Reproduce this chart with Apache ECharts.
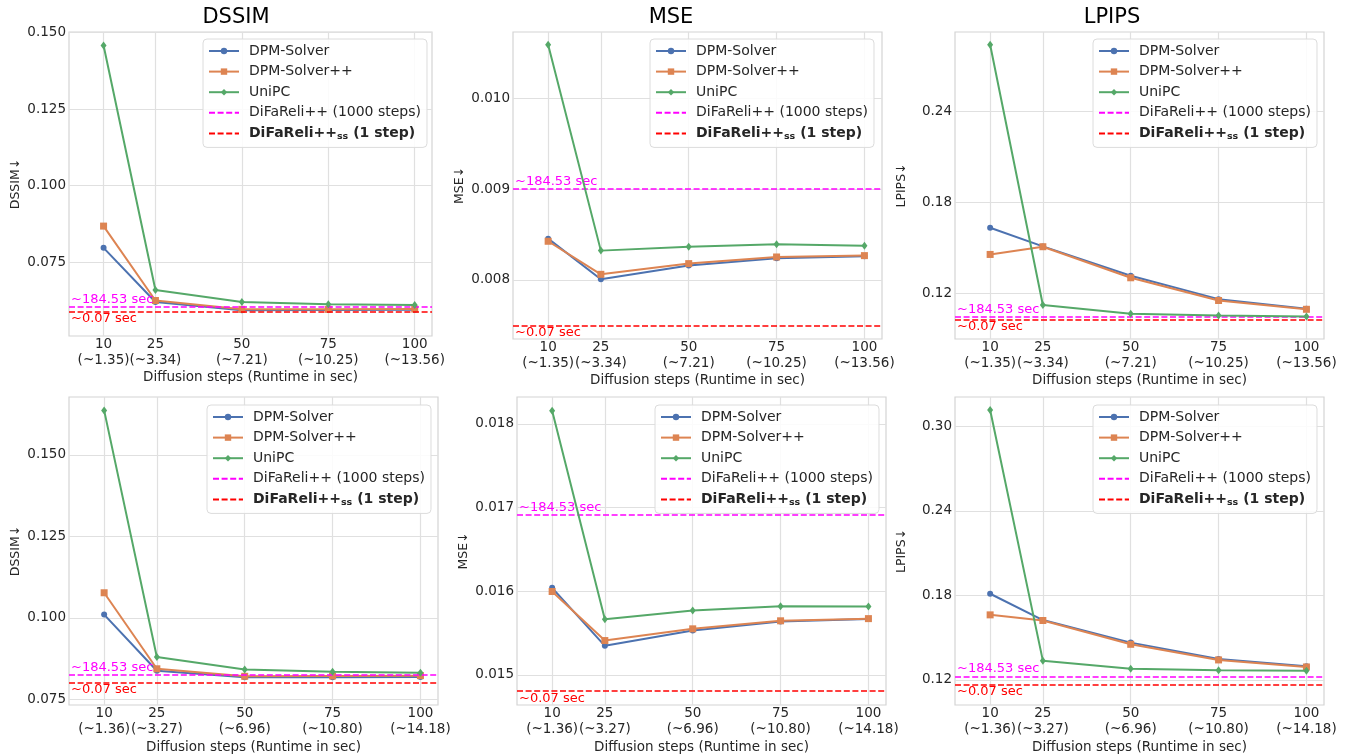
<!DOCTYPE html>
<html><head><meta charset="utf-8">
<script src="https://cdn.jsdelivr.net/npm/echarts@6/dist/echarts.min.js"></script>
<style>html,body{margin:0;padding:0;background:#fff}#c{width:1349px;height:756px}</style>
</head><body><div id="c"></div>
<script>
// ---------------- data ----------------
const steps = [10, 25, 50, 75, 100];
const runtimeTop = ['~1.35', '~3.34', '~7.21', '~10.25', '~13.56'];
const runtimeBottom = ['~1.36', '~3.27', '~6.96', '~10.80', '~14.18'];
const seriesNames = ['DPM-Solver', 'DPM-Solver++', 'UniPC', 'DiFaReli++ (1000 steps)', 'DiFaReli++ss (1 step)'];
const refLabels = ['~184.53 sec', '~0.07 sec'];
const xRange = [0, 105];

const dssimTopDpm   = [0.0797, 0.0620, 0.0593, 0.0594, 0.0595];
const dssimTopDpmpp = [0.0868, 0.0625, 0.0596, 0.0596, 0.0597];
const dssimTopUnipc = [0.1458, 0.0659, 0.0620, 0.0613, 0.0610];
const dssimTopRefs  = [0.0603, 0.0589];
const dssimTopRange = [0.0509, 0.1502];

const mseTopDpm   = [0.008455, 0.008007, 0.008158, 0.008239, 0.008261];
const mseTopDpmpp = [0.008426, 0.008062, 0.008180, 0.008253, 0.008268];
const mseTopUnipc = [0.010590, 0.008323, 0.008367, 0.008393, 0.008378];
const mseTopRefs  = [0.0090, 0.0075];
const mseTopRange = [0.00735, 0.01073];

const lpipsTopDpm   = [0.1631, 0.1508, 0.1314, 0.1160, 0.1097];
const lpipsTopDpmpp = [0.1455, 0.1506, 0.1301, 0.1151, 0.1093];
const lpipsTopUnipc = [0.2839, 0.1121, 0.1064, 0.1052, 0.1046];
const lpipsTopRefs  = [0.1044, 0.1026];
const lpipsTopRange = [0.0897, 0.2923];

const dssimBotDpm   = [0.1010, 0.0838, 0.0818, 0.0818, 0.0819];
const dssimBotDpmpp = [0.1077, 0.0844, 0.0821, 0.0822, 0.0823];
const dssimBotUnipc = [0.1636, 0.0880, 0.0842, 0.0835, 0.0832];
const dssimBotRefs  = [0.0825, 0.0802];
const dssimBotRange = [0.0733, 0.1677];

const mseBotDpm   = [0.016040, 0.015347, 0.015530, 0.015637, 0.015669];
const mseBotDpmpp = [0.015996, 0.015410, 0.015550, 0.015646, 0.015672];
const mseBotUnipc = [0.018156, 0.015665, 0.015769, 0.015821, 0.015817];
const mseBotRefs  = [0.016908, 0.014805];
const mseBotRange = [0.01464, 0.01832];

const lpipsBotDpm   = [0.1812, 0.1625, 0.1465, 0.1349, 0.1298];
const lpipsBotDpmpp = [0.1662, 0.1622, 0.1453, 0.1342, 0.1292];
const lpipsBotUnipc = [0.3117, 0.1337, 0.1280, 0.1269, 0.1266];
const lpipsBotRefs  = [0.1226, 0.1169];
const lpipsBotRange = [0.1022, 0.3209];

const dssimTicks = [0.075, 0.100, 0.125, 0.150];
const mseTopTicks = [0.008, 0.009, 0.010];
const mseBotTicks = [0.015, 0.016, 0.017, 0.018];
const lpipsTopTicks = [0.12, 0.18, 0.24];
const lpipsBotTicks = [0.12, 0.18, 0.24, 0.30];

const panels = [
  {title: 'DSSIM', yName: 'DSSIM↓', rt: runtimeTop, lines: [dssimTopDpm, dssimTopDpmpp, dssimTopUnipc], refs: dssimTopRefs, range: dssimTopRange, ticks: dssimTicks, dec: 3},
  {title: 'MSE', yName: 'MSE↓', rt: runtimeTop, lines: [mseTopDpm, mseTopDpmpp, mseTopUnipc], refs: mseTopRefs, range: mseTopRange, ticks: mseTopTicks, dec: 3},
  {title: 'LPIPS', yName: 'LPIPS↓', rt: runtimeTop, lines: [lpipsTopDpm, lpipsTopDpmpp, lpipsTopUnipc], refs: lpipsTopRefs, range: lpipsTopRange, ticks: lpipsTopTicks, dec: 2},
  {title: '', yName: 'DSSIM↓', rt: runtimeBottom, lines: [dssimBotDpm, dssimBotDpmpp, dssimBotUnipc], refs: dssimBotRefs, range: dssimBotRange, ticks: dssimTicks, dec: 3},
  {title: '', yName: 'MSE↓', rt: runtimeBottom, lines: [mseBotDpm, mseBotDpmpp, mseBotUnipc], refs: mseBotRefs, range: mseBotRange, ticks: mseBotTicks, dec: 3},
  {title: '', yName: 'LPIPS↓', rt: runtimeBottom, lines: [lpipsBotDpm, lpipsBotDpmpp, lpipsBotUnipc], refs: lpipsBotRefs, range: lpipsBotRange, ticks: lpipsBotTicks, dec: 2}
];

// ---------------- layout & style ----------------
const layout = [
  {left: 69,  top: 32,  width: 363, height: 304, titleX: 236,  legX: 203,  legY: 39,  nameGap: 34},
  {left: 513, top: 32,  width: 369, height: 307, titleX: 671,  legX: 650,  legY: 39,  nameGap: 34},
  {left: 955, top: 32,  width: 369, height: 307, titleX: 1112, legX: 1093, legY: 39,  nameGap: 34},
  {left: 69,  top: 397, width: 369, height: 308, titleX: 0,    legX: 207,  legY: 405, nameGap: 35},
  {left: 517, top: 397, width: 369, height: 308, titleX: 0,    legX: 655,  legY: 405, nameGap: 35},
  {left: 955, top: 397, width: 369, height: 308, titleX: 0,    legX: 1093, legY: 405, nameGap: 35}
];
const FONT = 'DejaVu Sans';
const TXT = '#262626';
const colors = ['#4C72B0', '#DD8452', '#55A868', '#ff00ff', '#ff0000'];
const symbols = ['circle', 'rect', 'diamond'];
const symbolSizes = [6, 7, [6, 8]];
const dash = [6, 2.6];

const option = {
  animation: false,
  backgroundColor: '#ffffff',
  title: [], grid: [], xAxis: [], yAxis: [], legend: [], series: []
};

const legendData = seriesNames.map((n, k) => k < 3 ? {name: n} : {name: n, itemStyle: {opacity: 0}});

panels.forEach((p, i) => {
  const L = layout[i];
  if (p.title) {
    option.title.push({text: p.title, left: L.titleX, top: 7, textAlign: 'center', padding: 0,
      textStyle: {fontFamily: FONT, fontSize: 21, fontWeight: 'normal', color: '#000'}});
  }
  option.grid.push({left: L.left, top: L.top, width: L.width, height: L.height, show: true,
    borderColor: '#d4d4d4', borderWidth: 1.2, backgroundColor: 'transparent'});
  option.xAxis.push({
    type: 'value', gridIndex: i, min: xRange[0], max: xRange[1],
    axisLine: {show: false},
    axisTick: {show: false, customValues: steps},
    axisLabel: {customValues: steps, fontFamily: FONT, fontSize: 13.5, lineHeight: 16, color: TXT, margin: 0,
      formatter: v => v + '\n(' + p.rt[steps.indexOf(v)] + ')'},
    splitLine: {show: true, lineStyle: {color: '#e0e0e0', width: 1.2}},
    name: 'Diffusion steps (Runtime in sec)', nameLocation: 'middle', nameGap: L.nameGap,
    nameTextStyle: {fontFamily: FONT, fontSize: 13.5, color: TXT}
  });
  option.yAxis.push({
    type: 'value', gridIndex: i, min: p.range[0], max: p.range[1],
    axisLine: {show: false},
    axisTick: {show: false, customValues: p.ticks},
    axisLabel: {customValues: p.ticks, fontFamily: FONT, fontSize: 13.5, color: TXT, margin: 3,
      formatter: v => v.toFixed(p.dec)},
    splitLine: {show: true, lineStyle: {color: '#e0e0e0', width: 1.2}},
    name: p.yName, nameLocation: 'middle', nameGap: 47, nameRotate: 90,
    nameTextStyle: {fontFamily: FONT, fontSize: 12.5, color: TXT}
  });
  option.legend.push({
    orient: 'vertical', left: L.legX, top: L.legY, data: legendData, selectedMode: false,
    itemWidth: 30, itemHeight: 8, itemGap: 6.6, padding: [5, 6, 6, 5],
    backgroundColor: 'rgba(255,255,255,0.85)', borderColor: '#dcdcdc', borderWidth: 1, borderRadius: 4,
    textStyle: {fontFamily: FONT, fontSize: 14, color: TXT, padding: [0, 0, 0, 5],
      rich: {b: {fontFamily: FONT, fontSize: 14, fontWeight: 'bold', color: TXT},
             s: {fontFamily: FONT, fontSize: 9.5, fontWeight: 'bold', color: TXT, verticalAlign: 'bottom', padding: [6, 0, 0, 0]}}},
    formatter: name => name === seriesNames[4] ? '{b|DiFaReli++}{s|ss}{b| (1 step)}' : name
  });
  p.lines.forEach((arr, k) => {
    option.series.push({
      type: 'line', name: seriesNames[k], xAxisIndex: i, yAxisIndex: i,
      data: steps.map((s, j) => [s, arr[j]]),
      symbol: symbols[k], symbolSize: symbolSizes[k], showSymbol: true,
      lineStyle: {color: colors[k], width: 2}, itemStyle: {color: colors[k]},
      emphasis: {disabled: true}, z: 3 + k
    });
  });
  p.refs.forEach((v, k) => {
    const c = colors[3 + k];
    option.series.push({
      type: 'line', name: seriesNames[3 + k], xAxisIndex: i, yAxisIndex: i, data: [],
      symbol: 'none', lineStyle: {color: c, width: 1.5, type: dash}, itemStyle: {color: c}, z: 10,
      markLine: {
        silent: true, symbol: ['none', 'none'], animation: false, precision: 10,
        data: [{yAxis: v}],
        lineStyle: {color: c, width: 1.5, type: dash},
        label: {show: true, position: k === 0 ? 'insideStartTop' : 'insideStartBottom',
          formatter: refLabels[k], color: c, fontFamily: FONT, fontSize: 13, distance: [2, 1]},
        emphasis: {disabled: true}
      }
    });
  });
});

const chart = echarts.init(document.getElementById('c'), null, {renderer: 'canvas'});
chart.setOption(option);
</script>
</body></html>
